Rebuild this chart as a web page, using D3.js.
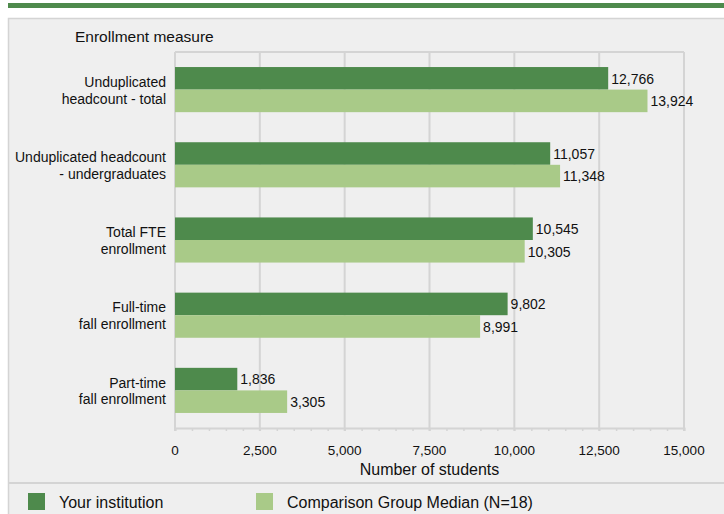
<!DOCTYPE html>
<html>
<head>
<meta charset="utf-8">
<script src="https://cdn.jsdelivr.net/npm/d3@7"></script>
<style>
  body { margin: 0; background: #fff; }
  svg text { font-family: "Liberation Sans", Arial, sans-serif; fill: #111; }
</style>
</head>
<body>
<div id="chart-container"></div>
<script>
// Chart data
const categories = [
  ["Unduplicated", "headcount - total"],
  ["Unduplicated headcount", "- undergraduates"],
  ["Total FTE", "enrollment"],
  ["Full-time", "fall enrollment"],
  ["Part-time", "fall enrollment"]
];
const yourInstitution = [12766, 11057, 10545, 9802, 1836];
const comparisonMedian = [13924, 11348, 10305, 8991, 3305];
const seriesNames = ["Your institution", "Comparison Group Median (N=18)"];
const xTicks = [0, 2500, 5000, 7500, 10000, 12500, 15000];

const width = 724;
const height = 514;
const marginTop = 52;
const marginLeft = 175;
const plotRight = 684;
const plotBottom = 428;

const colors = ["#4e8a4c", "#a9ca88"];

const svg = d3.create("svg")
  .attr("width", width)
  .attr("height", height)
  .attr("viewBox", [0, 0, width, height]);

// top green stripe
svg.append("rect")
  .attr("x", 8).attr("y", 3)
  .attr("width", width - 8).attr("height", 5)
  .attr("fill", "#4e8a4c");

// panel background
svg.append("rect")
  .attr("x", 8.5).attr("y", 18.5)
  .attr("width", width).attr("height", height)
  .attr("fill", "#efefef")
  .attr("stroke", "#d4d4d4")
  .attr("stroke-width", 1.5);

// legend separator
svg.append("line")
  .attr("x1", 8).attr("x2", width)
  .attr("y1", 483).attr("y2", 483)
  .attr("stroke", "#d4d4d4")
  .attr("stroke-width", 2);

const x = d3.scaleLinear()
  .domain([0, 15000])
  .range([marginLeft, plotRight]);

const y = d3.scaleBand()
  .domain(d3.range(categories.length))
  .range([marginTop, plotBottom])
  .paddingInner(0.4)
  .paddingOuter(0.2);

// grid lines
svg.append("g")
  .selectAll("line")
  .data(xTicks)
  .join("line")
  .attr("x1", d => x(d))
  .attr("x2", d => x(d))
  .attr("y1", marginTop)
  .attr("y2", plotBottom + 3)
  .attr("stroke", "#d4d4d4")
  .attr("stroke-width", 2);

svg.append("line")
  .attr("x1", marginLeft).attr("x2", plotRight)
  .attr("y1", marginTop).attr("y2", marginTop)
  .attr("stroke", "#d4d4d4")
  .attr("stroke-width", 2);

// x axis with minor ticks every 500
const xAxis = svg.append("g")
  .attr("transform", `translate(0,${plotBottom})`)
  .call(d3.axisBottom(x).tickValues(d3.range(0, 15001, 500)).tickSize(3).tickFormat(""));
xAxis.select(".domain").attr("stroke", "#d4d4d4").attr("stroke-width", 2);
xAxis.selectAll(".tick line").attr("stroke", "#d4d4d4").attr("stroke-width", 1.5);

svg.append("g")
  .selectAll("text")
  .data(xTicks)
  .join("text")
  .attr("x", d => x(d))
  .attr("y", 455)
  .attr("text-anchor", "middle")
  .attr("font-size", "13.5px")
  .text(d => d3.format(",")(d));

svg.append("text")
  .attr("x", (marginLeft + plotRight) / 2)
  .attr("y", 475)
  .attr("text-anchor", "middle")
  .attr("font-size", "16px")
  .text("Number of students");

svg.append("text")
  .attr("x", 75)
  .attr("y", 42)
  .attr("font-size", "15.5px")
  .text("Enrollment measure");

// bars
const barH = y.bandwidth() / 2;
[yourInstitution, comparisonMedian].forEach((values, s) => {
  const g = svg.append("g");
  g.selectAll("rect")
    .data(values)
    .join("rect")
    .attr("x", x(0))
    .attr("y", (d, i) => y(i) + s * barH)
    .attr("width", d => x(d) - x(0))
    .attr("height", barH)
    .attr("fill", colors[s]);
  g.selectAll("text")
    .data(values)
    .join("text")
    .attr("x", d => x(d) + 3)
    .attr("y", (d, i) => y(i) + s * barH + barH / 2)
    .attr("dy", "0.38em")
    .attr("font-size", "14px")
    .text(d => d3.format(",")(d));
});

// category labels
svg.append("g")
  .selectAll("text")
  .data(categories)
  .join("text")
  .attr("x", 166)
  .attr("y", (d, i) => y(i) + y.bandwidth() / 2)
  .attr("text-anchor", "end")
  .attr("font-size", "14px")
  .selectAll("tspan")
  .data(d => d)
  .join("tspan")
  .attr("x", 166)
  .attr("dy", (d, i) => i === 0 ? "-0.2em" : "1.2em")
  .text(d => d);

// legend
const legendX = [28, 256];
seriesNames.forEach((name, i) => {
  svg.append("rect")
    .attr("x", legendX[i]).attr("y", 493)
    .attr("width", 17).attr("height", 17)
    .attr("fill", colors[i]);
  svg.append("text")
    .attr("x", legendX[i] + 31)
    .attr("y", 508)
    .attr("font-size", "16px")
    .text(name);
});

document.getElementById("chart-container").appendChild(svg.node());
</script>
</body>
</html>
